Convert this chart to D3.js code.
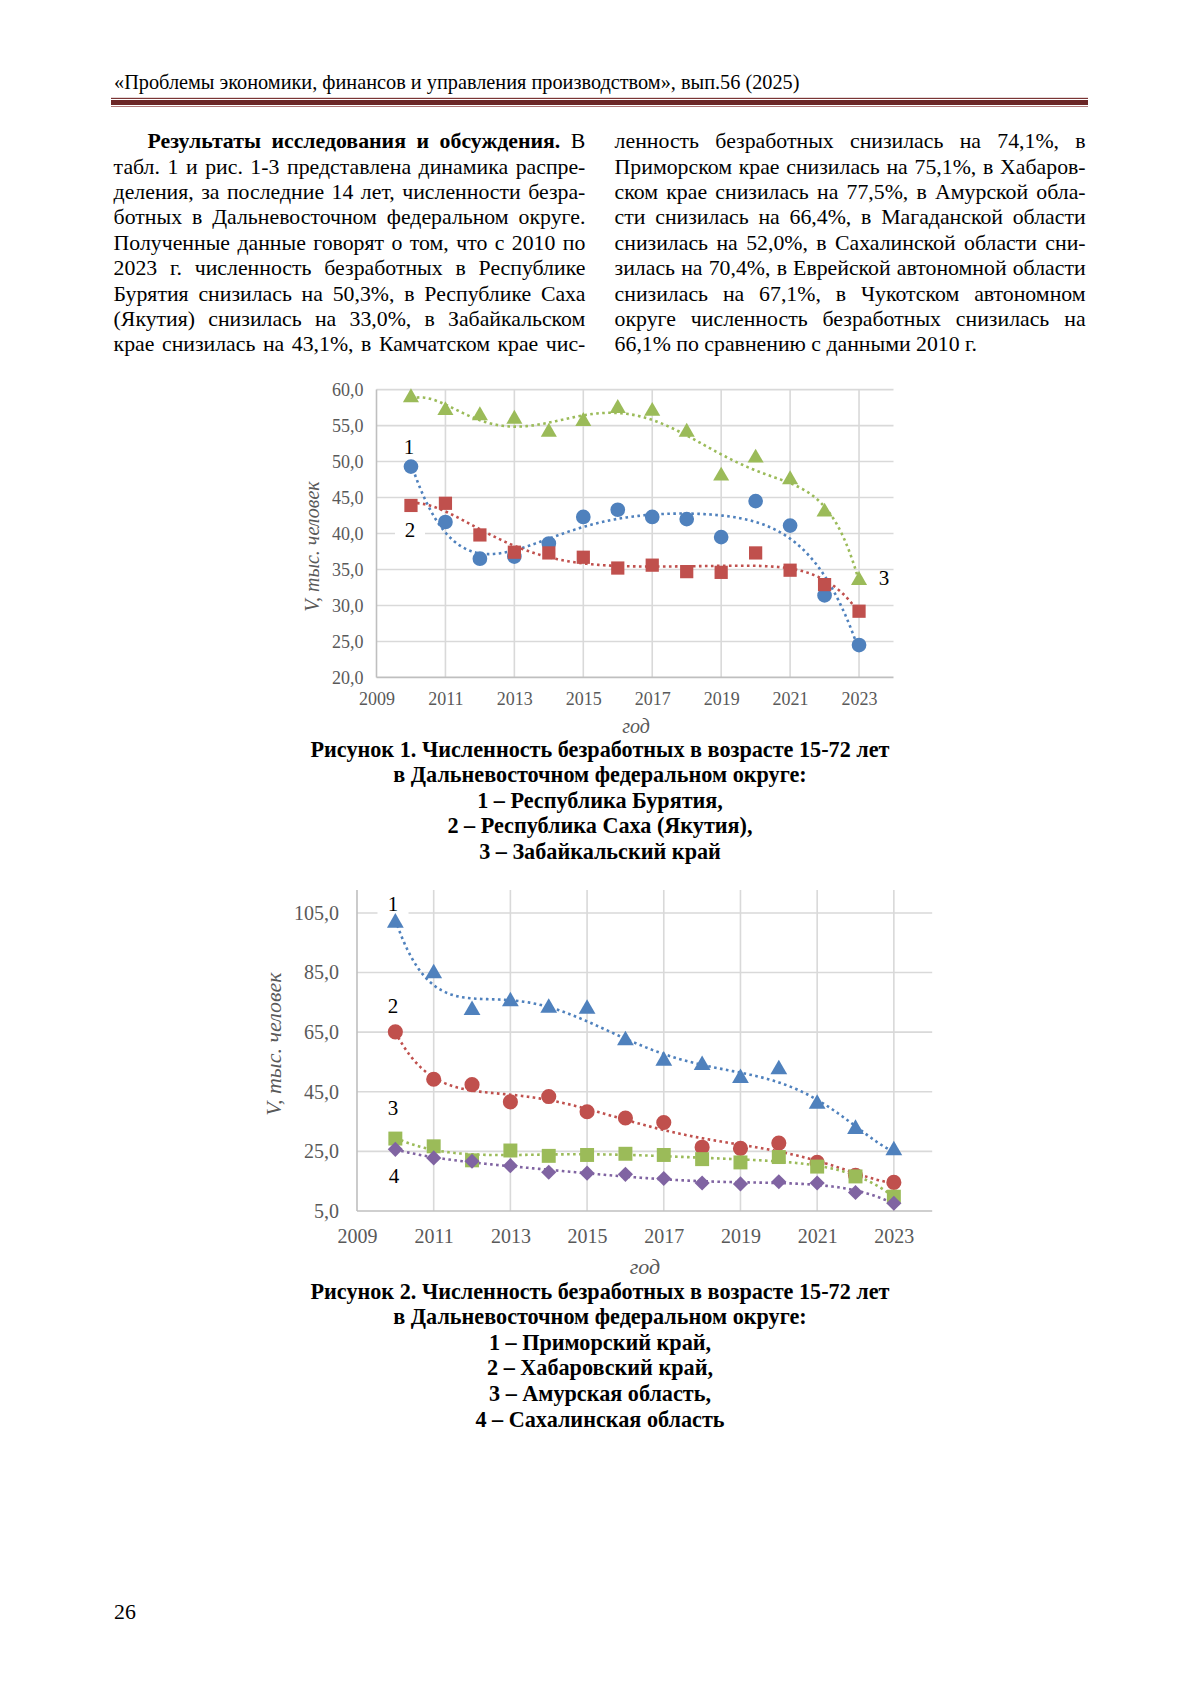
<!DOCTYPE html>
<html><head><meta charset="utf-8">
<script src="https://cdn.jsdelivr.net/npm/d3@7"></script>
<style>
html,body{margin:0;padding:0;background:#fff;}
#page{position:relative;width:1200px;height:1697px;overflow:hidden;}
svg{position:absolute;left:0;top:0;}
.ln{position:absolute;font-family:"Liberation Serif","Times New Roman",serif;font-size:21.8px;line-height:25.4px;height:25.4px;color:#000;white-space:nowrap;}
.j{text-align:justify;text-align-last:justify;}
</style></head>
<body><div id="page"></div>
<script>
// ---------- DATA ----------
const years = [2010,2011,2012,2013,2014,2015,2016,2017,2018,2019,2020,2021,2022,2023];
// Figure 1
const buryatia = [49.3,41.6,36.5,36.8,38.6,42.3,43.3,42.3,42.0,39.5,44.5,41.1,31.4,24.5];
const sakha    = [43.9,44.2,39.8,37.4,37.3,36.7,35.2,35.6,34.7,34.6,37.3,34.9,32.9,29.2];
const zabaikal = [58.9,57.1,56.4,55.9,54.1,55.6,57.4,57.0,54.1,48.0,50.5,47.5,43.0,33.5];
// Figure 2
const primorsky  = [101.7,84.7,72.4,75.3,73.1,72.8,62.2,55.4,53.9,49.6,52.5,40.9,32.5,25.3];
const khabarovsk = [65.1,49.2,47.4,41.6,43.4,38.3,36.2,34.7,26.4,26.0,27.8,21.3,17.0,14.6];
const amur       = [29.3,26.7,22.0,25.3,23.5,23.8,24.2,23.8,22.4,21.3,23.1,19.9,16.6,9.8];
const sakhalin   = [25.7,22.8,21.7,20.2,18.0,17.7,17.3,15.9,14.4,14.1,14.8,14.4,11.2,7.6];
const xTicks  = [2009,2011,2013,2015,2017,2019,2021,2023];
const yTicks1 = [20,25,30,35,40,45,50,55,60];
const yTicks2 = [5,25,45,65,85,105];

const headerText = "«Проблемы экономики, финансов и управления производством», вып.56 (2025)";
const leftLines = [
 ["Результаты исследования и обсуждения.", " В"],
 "табл. 1 и рис. 1-3 представлена динамика распре-",
 "деления, за последние 14 лет, численности безра-",
 "ботных в Дальневосточном федеральном округе.",
 "Полученные данные говорят о том, что с 2010 по",
 "2023 г. численность безработных в Республике",
 "Бурятия снизилась на 50,3%, в Республике Саха",
 "(Якутия) снизилась на 33,0%, в Забайкальском",
 "крае снизилась на 43,1%, в Камчатском крае чис-"
];
const rightLines = [
 "ленность безработных снизилась на 74,1%, в",
 "Приморском крае снизилась на 75,1%, в Хабаров-",
 "ском крае снизилась на 77,5%, в Амурской обла-",
 "сти снизилась на 66,4%, в Магаданской области",
 "снизилась на 52,0%, в Сахалинской области сни-",
 "зилась на 70,4%, в Еврейской автономной области",
 "снизилась на 67,1%, в Чукотском автономном",
 "округе численность безработных снизилась на",
 "66,1% по сравнению с данными 2010 г."
];
const caption1 = ["Рисунок 1. Численность безработных в возрасте 15-72 лет",
 "в Дальневосточном федеральном округе:",
 "1 – Республика Бурятия,",
 "2 – Республика Саха (Якутия),",
 "3 – Забайкальский край"];
const caption2 = ["Рисунок 2. Численность безработных в возрасте 15-72 лет",
 "в Дальневосточном федеральном округе:",
 "1 – Приморский край,",
 "2 – Хабаровский край,",
 "3 – Амурская область,",
 "4 – Сахалинская область"];

// ---------- HELPERS ----------
const SERIF = "'Liberation Serif','Times New Roman',serif";
const C = {blue:"#4F81BD", red:"#C0504D", green:"#9BBB59", purple:"#8064A2"};

function polyfit(xs, ys, deg){
  const n = deg+1, A = Array.from({length:n},()=>new Array(n+1).fill(0));
  xs.forEach((x,i)=>{
    const t=(x-2016.5)/6.5, p=[1]; for(let k=1;k<n;k++) p.push(p[k-1]*t);
    for(let a=0;a<n;a++){ for(let b=0;b<n;b++) A[a][b]+=p[a]*p[b]; A[a][n]+=p[a]*ys[i]; }
  });
  for(let c=0;c<n;c++){
    let piv=c; for(let r=c+1;r<n;r++) if(Math.abs(A[r][c])>Math.abs(A[piv][c])) piv=r;
    [A[c],A[piv]]=[A[piv],A[c]];
    for(let r=0;r<n;r++){ if(r===c) continue; const f=A[r][c]/A[c][c]; for(let k=c;k<=n;k++) A[r][k]-=f*A[c][k]; }
  }
  const coef = A.map((row,i)=>row[n]/row[i]);
  return x=>{ const t=(x-2016.5)/6.5; let s=0,p=1; for(const c of coef){ s+=c*p; p*=t; } return s; };
}

const page = d3.select("#page");
const svg = page.append("svg").attr("width",1200).attr("height",1697);

// ---------- HEADER ----------
svg.append("text").attr("x",114).attr("y",89).attr("font-family",SERIF).attr("font-size",20.3)
  .attr("fill","#000").text(headerText);
svg.append("rect").attr("x",111).attr("y",97.8).attr("width",977).attr("height",1.2).attr("fill","#7a3535");
svg.append("rect").attr("x",111).attr("y",100).attr("width",977).attr("height",5).attr("fill","#6b2626");
svg.append("rect").attr("x",111).attr("y",106).attr("width",977).attr("height",1).attr("fill","#b07a7a");

// ---------- BODY TEXT ----------
function col(lines, x0, w, lastPlain){
  lines.forEach((ln,i)=>{
    const d = page.append("div").attr("class","ln").style("left",x0+"px").style("width",w+"px")
      .style("top",(141.8+i*25.4-12.7)+"px");
    if(!(lastPlain && i===lines.length-1)) d.classed("j",true);
    if(Array.isArray(ln)){
      d.style("left",(x0+34)+"px").style("width",(w-34)+"px");
      d.append("b").text(ln[0]); d.append("span").text(ln[1]);
    } else d.text(ln);
  });
}
col(leftLines, 113.6, 471.8, false);
col(rightLines, 614.6, 471, true);

// ---------- CHART FUNCTION ----------
function chart(cfg){
  const g = svg.append("g");
  const x = d3.scaleLinear().domain([2009,2024]).range(cfg.xr);
  const y = d3.scaleLinear().domain(cfg.yd).range(cfg.yr);
  // gridlines
  g.append("g").selectAll("line").data(cfg.yTicks.slice(1)).join("line")
    .attr("x1",cfg.xr[0]).attr("x2",cfg.xr[1]).attr("y1",d=>y(d)).attr("y2",d=>y(d))
    .attr("stroke","#d9d9d9").attr("stroke-width",1.6);
  g.append("g").selectAll("line").data(xTicks.slice(1)).join("line")
    .attr("x1",d=>x(d)).attr("x2",d=>x(d)).attr("y1",cfg.yr[0]).attr("y2",cfg.yr[1])
    .attr("stroke","#d9d9d9").attr("stroke-width",1.6);
  // label masks
  cfg.labels.forEach(l=>{ if(l.mask) g.append("rect").attr("x",l.x-l.mw/2).attr("y",l.y-14).attr("width",l.mw).attr("height",28).attr("fill","#fff"); });
  // axes
  const ya = g.append("g").attr("transform",`translate(${cfg.xr[0]},0)`)
    .call(d3.axisLeft(y).tickValues(cfg.yTicks).tickSize(0).tickPadding(cfg.tp).tickFormat(d=>d3.format(".1f")(d).replace(".",",")));
  const xa = g.append("g").attr("transform",`translate(0,${cfg.yr[0]})`)
    .call(d3.axisBottom(x).tickValues(xTicks).tickSize(0).tickPadding(cfg.xtp).tickFormat(d3.format("d")));
  [ya,xa].forEach(a=>{
    a.select(".domain").attr("stroke","#bfbfbf").attr("stroke-width",1.6);
    a.selectAll("text").attr("font-family",SERIF).attr("font-size",cfg.fs).attr("fill","#595959");
  });
  ya.select(".domain").attr("d",`M0,${cfg.yr[0]}V${cfg.yr[1]}`);
  xa.select(".domain").attr("d",`M${cfg.xr[0]},0H${cfg.xr[1]}`);
  // axis titles
  g.append("text").attr("transform",`translate(${cfg.yt[0]},${cfg.yt[1]}) rotate(-90)`).attr("text-anchor","middle")
    .attr("dominant-baseline","central").attr("font-family",SERIF).attr("font-style","italic").attr("font-size",cfg.tfs)
    .attr("fill","#595959").text("V, тыс. человек");
  g.append("text").attr("x",cfg.xt[0]).attr("y",cfg.xt[1]).attr("text-anchor","middle")
    .attr("font-family",SERIF).attr("font-style","italic").attr("font-size",cfg.tfs).attr("fill","#595959").text("год");
  // series
  const line = d3.line().x(d=>x(d[0])).y(d=>y(d[1])).curve(d3.curveLinear);
  const fine = d3.range(2010, 2023.0001, 0.05);
  cfg.series.forEach(s=>{
    const f = polyfit(years, s.values, cfg.deg);
    g.append("path").attr("d", line(fine.map(t=>[t,f(t)]))).attr("fill","none")
      .attr("stroke",s.color).attr("stroke-width",2.6).attr("stroke-dasharray","2.6,3.4");
  });
  cfg.series.forEach(s=>{
    g.append("g").selectAll("path").data(years.map((yr,i)=>[yr,s.values[i]])).join("path")
      .attr("transform",d=>`translate(${x(d[0])},${y(d[1])})${s.rot?" rotate(45)":""}`)
      .attr("d",d3.symbol().type(s.sym).size(s.size)).attr("fill",s.color);
  });
  cfg.labels.forEach(l=>{
    g.append("text").attr("x",l.x).attr("y",l.y).attr("text-anchor","middle").attr("dominant-baseline","central")
      .attr("font-family",SERIF).attr("font-size",21).attr("fill","#000").text(l.t);
  });
}

chart({
  xr:[376.5,893.5], yd:[20,60], yr:[677.4,389.6], yTicks:yTicks1, fs:18, tfs:20, tp:13, xtp:15, deg:6,
  yt:[311.5,546.5], xt:[636,733],
  series:[
    {values:buryatia, color:C.blue, sym:d3.symbolCircle, size:170},
    {values:sakha, color:C.red, sym:d3.symbolSquare, size:175},
    {values:zabaikal, color:C.green, sym:d3.symbolTriangle, size:112}
  ],
  labels:[{t:"1",x:409,y:447},{t:"2",x:410,y:530,mask:true,mw:30},{t:"3",x:884,y:578}]
});

chart({
  xr:[357,932.2], yd:[5,112.7], yr:[1211,890], yTicks:yTicks2, fs:20, tfs:22, tp:18, xtp:18, deg:6,
  yt:[273.8,1044], xt:[645,1274],
  series:[
    {values:primorsky, color:C.blue, sym:d3.symbolTriangle, size:122},
    {values:khabarovsk, color:C.red, sym:d3.symbolCircle, size:180},
    {values:amur, color:C.green, sym:d3.symbolSquare, size:195},
    {values:sakhalin, color:C.purple, sym:d3.symbolSquare, size:115, rot:true}
  ],
  labels:[{t:"1",x:393,y:903.5,mask:true,mw:31},{t:"2",x:393,y:1006,mask:true,mw:30},{t:"3",x:393,y:1108,mask:true,mw:30},{t:"4",x:394,y:1176,mask:true,mw:30}]
});

// ---------- CAPTIONS ----------
function caption(lines, y0){
  svg.append("g").selectAll("text").data(lines).join("text")
    .attr("x",600).attr("y",(d,i)=>y0+i*25.6).attr("text-anchor","middle").attr("dominant-baseline","central")
    .attr("font-family",SERIF).attr("font-weight","bold").attr("font-size",22.2).attr("fill","#000").text(d=>d);
}
caption(caption1, 749);
caption(caption2, 1291);

// page number
svg.append("text").attr("x",114).attr("y",1619).attr("font-family",SERIF).attr("font-size",21.8).attr("fill","#000").text("26");
</script></body></html>
